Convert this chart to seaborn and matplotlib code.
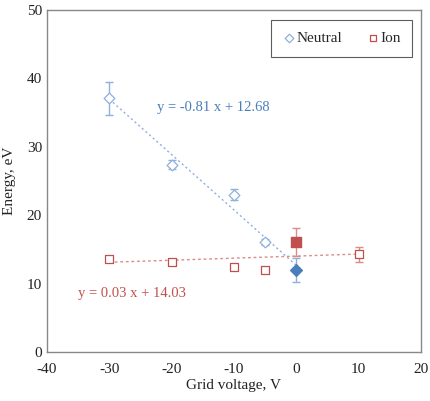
import matplotlib
matplotlib.use("Agg")
import matplotlib.pyplot as plt
import seaborn as sns
import numpy as np
import pandas as pd

# neutral (open diamonds) and ion (open squares) measurements
neutral_x = [-30, -20, -10, -5]
neutral_y = [37.1, 27.4, 23.0, 16.1]
neutral_err = [2.4, 0.7, 0.8, 0.5]
ion_x = [-30, -20, -10, -5, 10]
ion_y = [13.6, 13.2, 12.5, 12.0, 14.3]
ion_err = [0.4, 0.3, 0.4, 0.3, 1.1]

# filled points at zero grid voltage
neutral0_y, neutral0_err = 12.0, 1.8
ion0_y, ion0_err = 16.1, 2.1

# linear fits as printed on the chart
neutral_fit = (-0.81, 12.68)
ion_fit = (0.03, 14.03)

blue = "#4a7ebb"
red = "#c0504d"
blue_light = "#8fb0dc"
red_light = "#d98c8a"

sns.set_theme(style="white")
plt.rcParams["font.family"] = ["Liberation Serif", "DejaVu Serif"]
plt.rcParams["axes.unicode_minus"] = False

fig = plt.figure(figsize=(4.3, 4.01), dpi=100)
ax = fig.add_axes([0.109, 0.122, 0.870, 0.853])

df_n = pd.DataFrame({"x": neutral_x, "y": neutral_y})
df_i = pd.DataFrame({"x": ion_x, "y": ion_y})

# trend lines
xs = np.array([-30, 0])
ax.plot(xs, neutral_fit[0] * xs + neutral_fit[1], ls=(0, (1.5, 2)), color=blue_light, lw=1.0, zorder=1)
xs = np.array([-30, 10])
ax.plot(xs, ion_fit[0] * xs + ion_fit[1], ls=(0, (2, 2)), color=red_light, lw=1.0, zorder=1)

ax.errorbar(neutral_x, neutral_y, yerr=neutral_err, fmt="none", ecolor=blue_light, capsize=3, lw=1, zorder=2)
ax.errorbar(ion_x, ion_y, yerr=ion_err, fmt="none", ecolor=red_light, capsize=3, lw=1, zorder=2)
ax.errorbar([0], [neutral0_y], yerr=[neutral0_err], fmt="none", ecolor=blue_light, capsize=3, lw=1, zorder=2)
ax.errorbar([0], [ion0_y], yerr=[ion0_err], fmt="none", ecolor=red_light, capsize=3, lw=1, zorder=2)

sns.scatterplot(data=df_n, x="x", y="y", marker="D", s=30, facecolor="white",
                edgecolor=blue_light, linewidth=0.9, ax=ax, zorder=3, label="Neutral")
sns.scatterplot(data=df_i, x="x", y="y", marker="s", s=34, facecolor="white",
                edgecolor=red, linewidth=0.9, ax=ax, zorder=3, label="Ion")
ax.scatter([0], [neutral0_y], marker="D", s=36, color=blue, zorder=4)
ax.scatter([0], [ion0_y], marker="s", s=60, color=red, zorder=4)

ax.text(-22.3, 35.8, "y = -0.81 x + 12.68", color=blue, fontsize=10.5, va="center")
ax.text(-35.0, 8.6, "y = 0.03 x + 14.03", color=red, fontsize=10.5, va="center")

ax.set_xlim(-40, 20)
ax.set_ylim(0, 50)
ax.set_xticks(range(-40, 21, 10))
ax.set_yticks(range(0, 51, 10))
ax.set_xticks(range(-35, 20, 10), minor=True)
ax.set_yticks(range(5, 50, 10), minor=True)
ax.tick_params(which="both", direction="in", color="#888888", labelsize=11, labelcolor="#222222")
ax.tick_params(which="major", length=4, width=0.8)
ax.tick_params(which="minor", length=4, width=0.8)
ax.tick_params(axis="x", pad=8)
for sp in ax.spines.values():
    sp.set_color("#888888")
    sp.set_linewidth(1.0)

ax.set_xlabel("Grid voltage, V", fontsize=11, color="#222222", labelpad=2)
ax.set_ylabel("Energy, eV", fontsize=11, color="#222222", labelpad=8)

leg = ax.legend(loc="upper right", ncol=2, fontsize=11, frameon=True, fancybox=False,
                handletextpad=0.1, columnspacing=1.6, borderpad=0.75, handlelength=0.8,
                markerscale=0.8, bbox_to_anchor=(0.985, 0.98), borderaxespad=0.2)
leg.get_frame().set_edgecolor("#333333")
leg.get_frame().set_linewidth(0.8)

fig.savefig("out.png", dpi=100)
